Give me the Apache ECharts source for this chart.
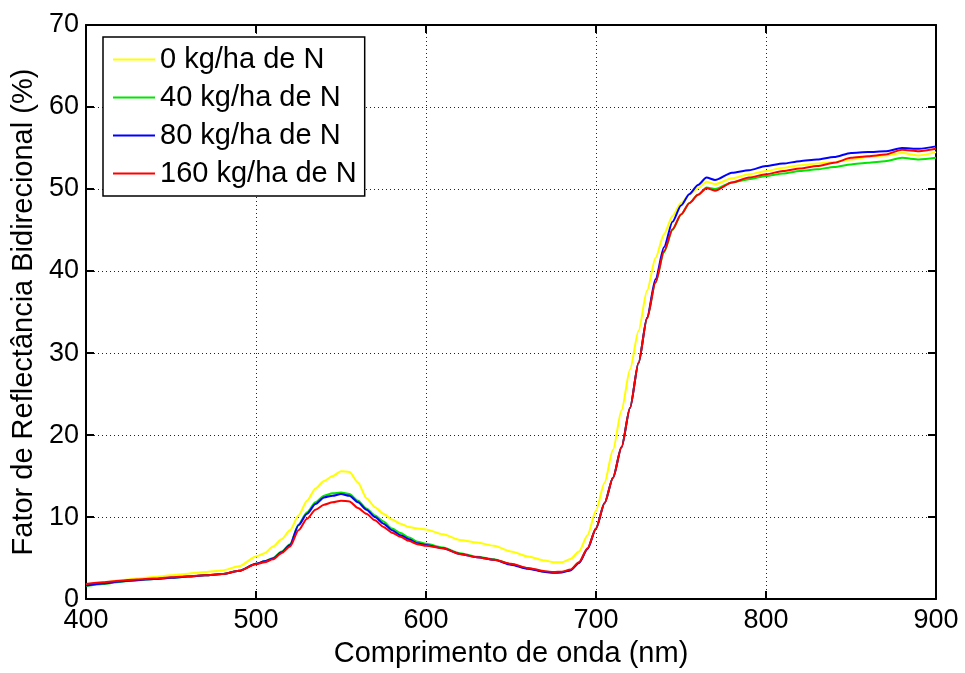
<!DOCTYPE html>
<html>
<head>
<meta charset="utf-8">
<script src="https://cdn.jsdelivr.net/npm/echarts@6/dist/echarts.min.js"></script>
<style>
    html, body { margin: 0; padding: 0; background: #fff; }
    #chart { width: 965px; height: 673px; }
</style>
</head>
<body>
<div id="chart"></div>
<script>
// comprimento de onda (nm)
var wavelengths = [
    400, 410, 420, 430, 440, 450, 460, 470, 480, 490,
    500, 505, 510, 515, 520, 525, 530, 535, 540, 545, 550, 555, 560, 565, 570, 575, 580, 585, 590, 595, 600,
    610, 620, 630, 640, 650, 660, 670,
    675, 680, 685, 690, 695, 700, 705, 710, 715, 720, 725, 730, 735, 740, 745, 750, 755, 760, 765, 770,
    780, 790, 800, 810, 820, 830, 840, 850, 860, 870, 880, 890, 900
];

var names = ['0 kg/ha de N', '40 kg/ha de N', '80 kg/ha de N', '160 kg/ha de N'];
var colors = ['#ffff00', '#00e600', '#0000ff', '#ff0000'];

var n0 = [
    1.8, 2.0, 2.3, 2.5, 2.7, 2.9, 3.1, 3.3, 3.5, 4.0,
    5.2, 5.6, 6.4, 7.3, 8.4, 10.2, 12.0, 13.5, 14.4, 15.0, 15.6, 15.5, 14.2, 12.3, 11.2, 10.4, 9.7, 9.2, 8.8, 8.6, 8.5,
    7.9, 7.2, 6.9, 6.5, 5.8, 5.2, 4.7,
    4.5, 4.5, 4.9, 5.8, 7.8, 10.8, 14.2, 18.2, 23.0, 28.0, 32.7, 37.6, 41.6, 44.5, 46.7, 48.3, 49.3, 50.1, 50.9, 50.6,
    51.3, 51.8, 52.2, 52.6, 52.9, 53.1, 53.3, 53.6, 53.9, 54.1, 54.4, 54.1, 54.5
];
var n40 = [
    1.6, 1.85, 2.1, 2.3, 2.45, 2.6, 2.75, 2.9, 3.05, 3.45,
    4.3, 4.6, 5.0, 5.8, 6.7, 9.1, 10.6, 11.8, 12.6, 12.9, 13.0, 12.8, 12.0, 11.05, 10.2, 9.45, 8.6, 8.05, 7.5, 7.0, 6.75,
    6.3, 5.6, 5.15, 4.85, 4.25, 3.75, 3.35,
    3.25, 3.3, 3.55, 4.45, 6.1, 8.6, 11.7, 14.8, 18.5, 23.3, 28.8, 34.2, 38.6, 42.3, 45.0, 46.9, 48.3, 49.3, 50.2, 50.0,
    50.8, 51.2, 51.6, 51.9, 52.2, 52.4, 52.7, 53.0, 53.2, 53.4, 53.8, 53.6, 53.8
];
var n80 = [
    1.65, 1.9, 2.15, 2.3, 2.45, 2.6, 2.75, 2.9, 3.05, 3.45,
    4.3, 4.6, 4.95, 5.7, 6.6, 9.0, 10.4, 11.6, 12.4, 12.6, 12.8, 12.6, 11.8, 10.9, 10.0, 9.2, 8.4, 7.8, 7.3, 6.8, 6.6,
    6.2, 5.5, 5.1, 4.8, 4.2, 3.7, 3.3,
    3.2, 3.25, 3.5, 4.4, 6.1, 8.6, 11.7, 14.8, 18.5, 23.3, 28.8, 34.3, 39.0, 42.9, 46.0, 48.0, 49.4, 50.5, 51.4, 51.1,
    52.0, 52.3, 52.8, 53.1, 53.4, 53.6, 53.9, 54.4, 54.5, 54.6, 55.0, 54.9, 55.2
];
var n160 = [
    1.85, 2.05, 2.25, 2.4, 2.5, 2.65, 2.8, 2.9, 3.05, 3.45,
    4.25, 4.5, 4.85, 5.6, 6.4, 8.4, 9.8, 10.9, 11.5, 11.8, 12.0, 11.9, 11.1, 10.4, 9.6, 8.8, 8.1, 7.6, 7.1, 6.7, 6.5,
    6.2, 5.5, 5.1, 4.8, 4.3, 3.8, 3.4,
    3.3, 3.35, 3.6, 4.5, 6.2, 8.6, 11.7, 14.8, 18.5, 23.3, 28.8, 34.2, 38.6, 42.4, 45.1, 46.9, 48.3, 49.3, 50.1, 49.8,
    50.8, 51.4, 51.8, 52.2, 52.5, 52.8, 53.2, 53.8, 54.0, 54.2, 54.8, 54.6, 54.9
];

var xTicks = [400, 500, 600, 700, 800, 900];
var yTicks = [0, 10, 20, 30, 40, 50, 60, 70];

var font = '"Liberation Sans", Arial, Helvetica, sans-serif';

//Ghép cặp [x, y] cho từng đường
function toPairs(values) {
    var out = [];
    for (var i = 0; i < wavelengths.length; i++) {
        out.push([wavelengths[i], values[i]]);
    }
    return out;
}

var allValues = [n0, n40, n80, n160];
var series = [];
for (var s = 0; s < allValues.length; s++) {
    series.push({
        name: names[s],
        type: 'line',
        xAxisIndex: 0,
        yAxisIndex: 0,
        showSymbol: false,
        smooth: 0.25,
        smoothMonotone: 'x',
        lineStyle: { width: 2, color: colors[s] },
        itemStyle: { color: colors[s] },
        data: toPairs(allValues[s]),
        z: 2 + s
    });
}

var frameLine = { show: true, onZero: false, lineStyle: { color: '#000', width: 2 } };
var innerTick = { show: true, inside: true, length: 8, lineStyle: { color: '#000', width: 2 } };
var dotted = { show: true, lineStyle: { color: '#222', width: 1, type: [1, 3] } };

var chart = echarts.init(document.getElementById('chart'), null, { renderer: 'canvas' });

chart.setOption({
    animation: false,
    backgroundColor: '#fff',
    textStyle: { fontFamily: font },
    grid: { left: 86, right: 29, top: 25, bottom: 66, containLabel: false },
    legend: {
        orient: 'vertical',
        left: 103,
        top: 37,
        data: names,
        icon: 'rect',
        itemWidth: 42,
        itemHeight: 2,
        itemGap: 9,
        padding: [8, 8, 8, 10],
        backgroundColor: '#fff',
        borderColor: '#000',
        borderWidth: 1.5,
        borderRadius: 0,
        textStyle: { fontFamily: font, fontSize: 29, lineHeight: 28, color: '#000', padding: [0, 0, 0, 0] }
    },
    xAxis: [{
        type: 'value',
        min: xTicks[0],
        max: xTicks[xTicks.length - 1],
        interval: 100,
        position: 'bottom',
        name: 'Comprimento de onda (nm)',
        nameLocation: 'middle',
        nameGap: 37,
        nameTextStyle: { fontFamily: font, fontSize: 29, color: '#000' },
        axisLine: frameLine,
        axisTick: innerTick,
        axisLabel: { fontFamily: font, fontSize: 27, color: '#000', margin: 8 },
        splitLine: dotted
    }, {
        type: 'value',
        min: xTicks[0],
        max: xTicks[xTicks.length - 1],
        interval: 100,
        position: 'top',
        axisLine: frameLine,
        axisTick: innerTick,
        axisLabel: { show: false },
        splitLine: { show: false }
    }],
    yAxis: [{
        type: 'value',
        min: yTicks[0],
        max: yTicks[yTicks.length - 1],
        interval: 10,
        position: 'left',
        name: 'Fator de Reflectância Bidirecional (%)',
        nameLocation: 'middle',
        nameGap: 47,
        nameRotate: 90,
        nameTextStyle: { fontFamily: font, fontSize: 29, color: '#000' },
        axisLine: frameLine,
        axisTick: innerTick,
        axisLabel: { fontFamily: font, fontSize: 27, color: '#000', margin: 7 },
        splitLine: dotted
    }, {
        type: 'value',
        min: yTicks[0],
        max: yTicks[yTicks.length - 1],
        interval: 10,
        position: 'right',
        axisLine: frameLine,
        axisTick: innerTick,
        axisLabel: { show: false },
        splitLine: { show: false }
    }],
    series: series
});
</script>
</body>
</html>
